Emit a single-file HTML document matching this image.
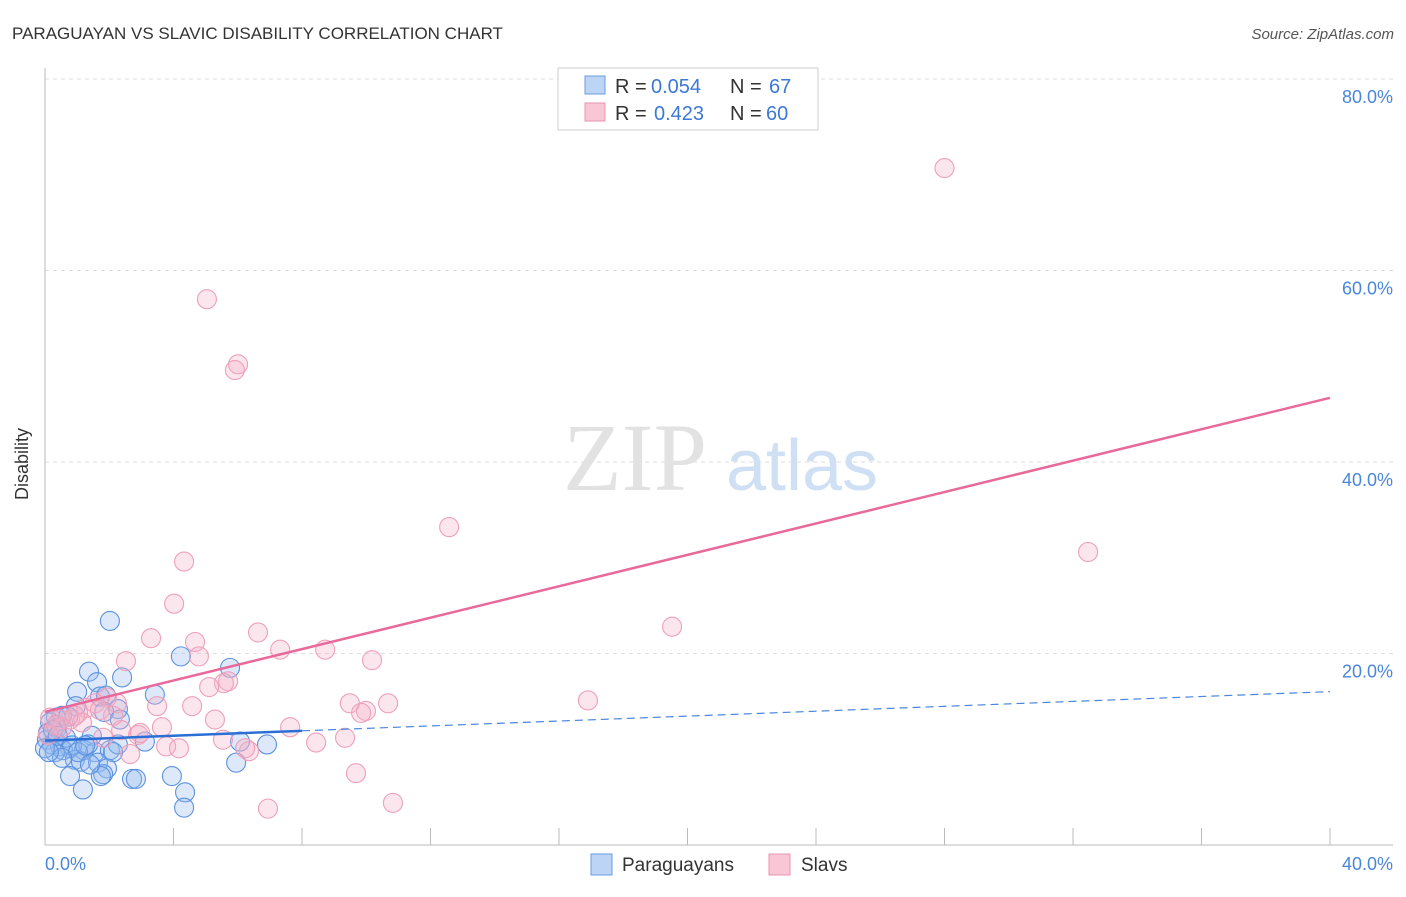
<!DOCTYPE html>
<html><head><meta charset="utf-8"><style>
body{margin:0;background:#fff;font-family:"Liberation Sans",sans-serif;}
</style></head><body>
<svg width="1406" height="892" xmlns="http://www.w3.org/2000/svg" id="chart">
<text x="12" y="39" font-size="17" fill="#333">PARAGUAYAN VS SLAVIC DISABILITY CORRELATION CHART</text>
<text x="1394" y="39" font-size="15" fill="#555" font-style="italic" text-anchor="end">Source: ZipAtlas.com</text>
<g id="grid"></g>
<g><text x="635" y="490" font-size="96" font-family="Liberation Serif,serif" fill="#e2e2e2" text-anchor="middle">ZIP</text><text x="802" y="490" font-size="72" fill="#cfe0f5" text-anchor="middle">atlas</text></g>
<line x1="45" y1="68" x2="45" y2="845" stroke="#bbb"/>
<line x1="45" y1="845" x2="1393" y2="845" stroke="#bbb"/>
<g id="ticks"></g>
<text x="20" y="456" font-size="18" fill="#333" text-anchor="middle" transform="rotate(-90 28 456)">Disability</text>
<text x="45" y="870" font-size="18" fill="#4a86dc">0.0%</text>
<text x="1393" y="870" font-size="18" fill="#4a86dc" text-anchor="end">40.0%</text>
<g id="points"></g>
<g id="trends"></g>
<g>
<rect x="558" y="68" width="260" height="62" fill="#fff" stroke="#ccc"/>
<rect x="585" y="76" width="20" height="18" fill="#bcd4f5" stroke="#6a9be0"/>
<rect x="585" y="103" width="20" height="18" fill="#f9c6d6" stroke="#e895b0"/>
<text x="615" y="93" font-size="20" fill="#333">R =</text><text x="651" y="93" font-size="20" fill="#3b78d8">0.054</text>
<text x="730" y="93" font-size="20" fill="#333">N =</text><text x="769" y="93" font-size="20" fill="#3b78d8">67</text>
<text x="615" y="120" font-size="20" fill="#333">R =</text><text x="654" y="120" font-size="20" fill="#3b78d8">0.423</text>
<text x="730" y="120" font-size="20" fill="#333">N =</text><text x="766" y="120" font-size="20" fill="#3b78d8">60</text>
</g>
<g>
<rect x="591" y="854" width="21" height="21" fill="#bcd4f5" stroke="#6a9be0"/>
<text x="622" y="871" font-size="19" fill="#333">Paraguayans</text>
<rect x="769" y="854" width="21" height="21" fill="#f9c6d6" stroke="#e895b0"/>
<text x="801" y="871" font-size="19" fill="#333">Slavs</text>
</g>
</svg>
<script>
const yTicks=[20,40,60,80];
const yTickLabels=["20.0%","40.0%","60.0%","80.0%"];
const xTicks=[4,8,12,16,20,24,28,32,36,40];
const paraX=[2.02,4.23,1.37,5.76,2.40,1.62,1.00,1.71,1.90,3.42,0.96,2.27,1.84,2.33,0.53,0.34,0.72,0.16,0.37,1.46,0.06,0.22,0.47,0.78,1.21,0.56,1.56,2.02,2.27,3.11,6.07,6.91,2.12,0.31,0.93,1.12,1.65,5.95,1.93,1.81,2.71,2.83,3.95,0.78,1.74,1.18,4.36,4.33,0.09,0.25,0.65,0.40,1.34,0.84,1.03,0.53,1.40,0,0.12,1.25];
const paraY=[23.4,19.7,18.1,18.5,17.5,17.0,16.0,15.5,15.6,15.7,14.5,14.2,13.9,13.1,13.5,13.3,13.4,12.8,12.2,11.4,11.0,10.5,10.3,10.1,9.9,9.9,9.7,9.9,10.5,10.8,10.8,10.5,9.7,9.7,8.9,8.7,8.6,8.6,8.0,7.4,6.9,6.9,7.2,7.2,7.2,5.8,5.5,3.9,11.7,12.0,11.2,11.4,10.5,10.4,9.7,9.1,8.4,10.1,9.7,10.4];
const slavX=[28.0,5.04,6.01,5.91,12.58,4.33,32.47,4.02,19.52,3.30,6.63,4.67,7.32,8.72,2.52,4.79,10.18,5.70,5.57,5.11,16.90,9.49,10.68,3.49,4.58,9.99,9.84,1.93,2.24,1.56,1.28,1.03,0.78,0.47,0.16,5.29,3.64,7.63,2.37,2.90,9.34,8.44,1.81,5.54,3.77,4.17,6.35,2.65,9.68,10.83,6.94,0.53,0.09,1.15,1.71,2.96,0.93,0.34,2.12,6.23];
const slavY=[70.7,57.0,50.2,49.6,33.2,29.6,30.6,25.2,22.8,21.6,22.2,21.2,20.4,20.4,19.2,19.7,19.3,17.1,16.9,16.5,15.1,14.8,14.8,14.5,14.5,14.0,13.8,15.4,14.8,14.8,14.3,13.8,13.1,13.1,13.3,13.1,12.3,12.3,12.0,11.5,11.2,10.7,11.2,11.0,10.3,10.1,9.8,9.5,7.5,4.4,3.8,12.3,11.5,12.8,14.1,11.7,13.5,12.5,13.5,10.1];
const paraTrend=[10.9,0.128];
const slavTrend=[13.9,0.82];
const paraSolidEnd=8;
const NS="http://www.w3.org/2000/svg";
const sx=v=>45+v/40*1285, sy=v=>845-v/20*191.5;
function mk(tag,attrs,parent){const e=document.createElementNS(NS,tag);for(const k in attrs)e.setAttribute(k,attrs[k]);parent.appendChild(e);return e;}
const grid=document.getElementById('grid');
yTicks.forEach((t,i)=>{
 const l=mk('line',{x1:45,x2:1393,y1:sy(t),y2:sy(t),stroke:'#ddd','stroke-dasharray':'4,4'},grid);
 
 
 const tx=mk('text',{x:1393,y:sy(t)+24,'font-size':18,fill:'#4a86dc','text-anchor':'end'},grid);
 tx.textContent=yTickLabels[i];
 
 
});
const ticks=document.getElementById('ticks');
xTicks.forEach(t=>{
 const l=mk('line',{x1:sx(t),x2:sx(t),y1:828,y2:845,stroke:'#bbb'},ticks);
 
 
});
const pts=document.getElementById('points');
paraX.forEach((x,i)=>{
 const c=mk('circle',{cx:sx(x),cy:sy(paraY[i]),r:9.5,fill:'rgba(150,188,238,0.32)',stroke:'#5b92df','stroke-width':1.1},pts);
 
 
});
slavX.forEach((x,i)=>{
 const c=mk('circle',{cx:sx(x),cy:sy(slavY[i]),r:9.5,fill:'rgba(246,178,200,0.32)',stroke:'#ee9fba','stroke-width':1.1},pts);
 
 
});
const tr=document.getElementById('trends');
const pf=x=>paraTrend[0]+paraTrend[1]*x, sf=x=>slavTrend[0]+slavTrend[1]*x;
let a=mk('line',{x1:sx(0),y1:sy(sf(0)),x2:sx(40),y2:sy(sf(40)),stroke:'#e8699a','stroke-width':2.5},tr);


a=mk('line',{x1:sx(0),y1:sy(pf(0)),x2:sx(paraSolidEnd),y2:sy(pf(paraSolidEnd)),stroke:'#2b6fd6','stroke-width':2.5},tr);


a=mk('line',{x1:sx(paraSolidEnd),y1:sy(pf(paraSolidEnd)),x2:sx(40),y2:sy(pf(40)),stroke:'#4a86dc','stroke-width':1.2,'stroke-dasharray':'8,5'},tr);


</script>
</body></html>
